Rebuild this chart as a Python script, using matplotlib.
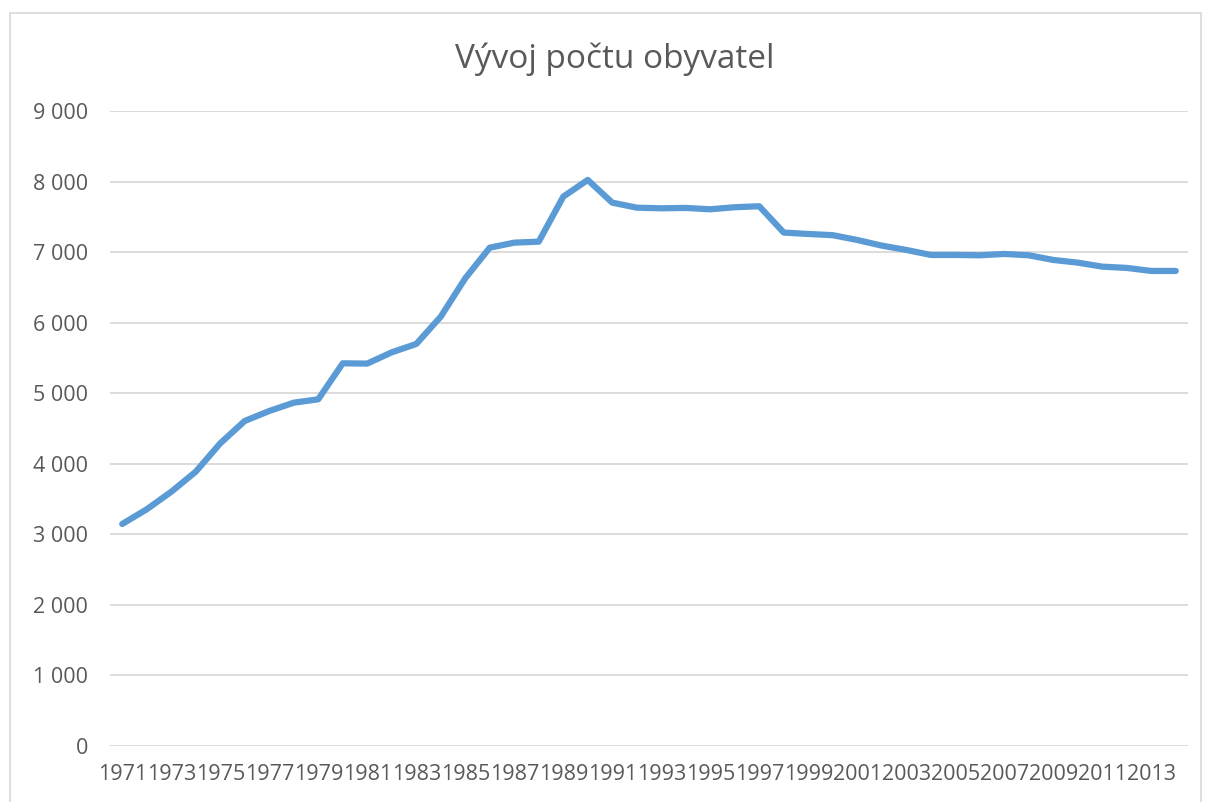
import matplotlib
matplotlib.use("Agg")
import matplotlib.pyplot as plt
from matplotlib.lines import Line2D
from matplotlib.ticker import FuncFormatter

years = list(range(1971, 2015))
population = [3147, 3355, 3603, 3888, 4290, 4607, 4748, 4866, 4914, 5424,
              5420, 5580, 5698, 6085, 6629, 7063, 7134, 7148, 7786, 8023,
              7701, 7630, 7621, 7626, 7607, 7636, 7650, 7277, 7257, 7240,
              7172, 7092, 7031, 6960, 6960, 6955, 6974, 6955, 6889, 6851,
              6794, 6776, 6733, 6733]
title = "Vývoj počtu obyvatel"
y_ticks = [0, 1000, 2000, 3000, 4000, 5000, 6000, 7000, 8000, 9000]

text_color = "#595959"
grid_color = "#D9D9D9"
line_color = "#5B9BD5"

plt.rcParams['font.family'] = ['Open Sans', 'DejaVu Sans']

W, H = 1209, 802
fig = plt.figure(figsize=(W / 100, H / 100), dpi=100)
ax = fig.add_axes([110 / W, 1 - 746 / H, (1188 - 110) / W, (746 - 111) / H])

x = list(range(len(years)))
ax.plot(x, population, color=line_color, lw=4.5, solid_capstyle='round',
        solid_joinstyle='round', zorder=3)

ax.set_xlim(-0.5, len(years) - 0.5)
ax.set_ylim(0, 9000)
ax.set_yticks(y_ticks)
ax.yaxis.set_major_formatter(FuncFormatter(lambda v, p: f"{int(v):,}".replace(",", " ")))
ax.set_xticks(x[::2])
ax.set_xticklabels([str(y) for y in years[::2]])

ax.grid(axis='y', color=grid_color, lw=1.3, zorder=0)
for s in ax.spines.values():
    s.set_visible(False)
ax.tick_params(length=0, labelsize=15.5, colors=text_color)
ax.tick_params(axis='y', pad=16)
ax.tick_params(axis='x', pad=13)

fig.text(615 / W, 1 - 59 / H, title, ha='center', va='center',
         fontsize=24, color=text_color)

# chart border
for (x0, y0, x1, y1) in [(9.5, 12.5, 1200.5, 12.5), (9.5, 12.5, 9.5, 802), (1200.5, 12.5, 1200.5, 802)]:
    fig.add_artist(Line2D([x0 / W, x1 / W], [1 - y0 / H, 1 - y1 / H],
                          color=grid_color, lw=1.2, transform=fig.transFigure))

fig.savefig("out.png", dpi=100)
